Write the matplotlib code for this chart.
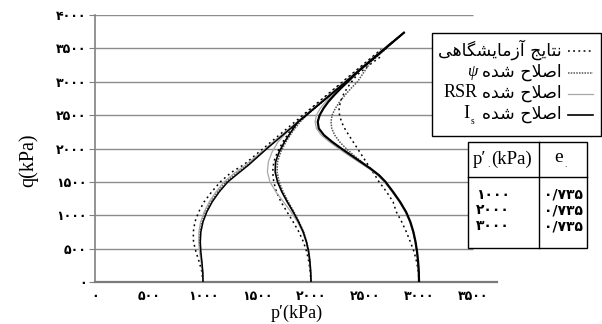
import matplotlib
matplotlib.use("Agg")
import matplotlib.pyplot as plt
from matplotlib.lines import Line2D
from matplotlib.patches import Rectangle

W, H = 602, 324

# stress paths, p' (kPa) against q (kPa), three initial confining pressures
exp_1000_p = [1000, 990, 965, 935, 912, 910, 925, 960, 1010, 1080, 1160, 1260, 1380, 1580, 1800, 2050, 2300, 2500, 2650]
exp_1000_q = [0, 150, 300, 450, 600, 750, 900, 1050, 1200, 1350, 1500, 1640, 1760, 2030, 2330, 2670, 3010, 3280, 3480]
psi_1000_p = [1000, 996, 987, 975, 968, 972, 990, 1022, 1072, 1135, 1212, 1305, 1410, 1600, 1800, 2000, 2200, 2400, 2600, 2700]
psi_1000_q = [0, 150, 300, 450, 600, 750, 900, 1050, 1200, 1350, 1500, 1625, 1755, 2020, 2295, 2570, 2840, 3115, 3390, 3520]
rsr_1000_p = [1000, 995, 983, 968, 960, 962, 978, 1010, 1058, 1120, 1195, 1290, 1400, 1600, 1800, 2000, 2200, 2400, 2600, 2750]
rsr_1000_q = [0, 150, 300, 450, 600, 750, 900, 1050, 1200, 1350, 1500, 1630, 1760, 2030, 2300, 2575, 2850, 3120, 3395, 3600]
is_1000_p = [1000, 998, 990, 980, 975, 980, 1000, 1035, 1085, 1150, 1230, 1320, 1420, 1600, 1800, 2000, 2200, 2400, 2600, 2860]
is_1000_q = [0, 150, 300, 450, 600, 750, 900, 1050, 1200, 1350, 1500, 1620, 1750, 2010, 2285, 2560, 2830, 3105, 3380, 3735]

exp_2000_p = [2000, 1993, 1980, 1960, 1930, 1888, 1835, 1778, 1722, 1680, 1655, 1645, 1655, 1690, 1740, 1800, 1870, 1960, 2100, 2300, 2500, 2650]
exp_2000_q = [0, 150, 300, 450, 600, 750, 900, 1050, 1200, 1350, 1500, 1650, 1800, 1950, 2100, 2250, 2400, 2540, 2730, 3005, 3278, 3483]
psi_2000_p = [2000, 1997, 1991, 1980, 1961, 1932, 1890, 1842, 1790, 1742, 1705, 1686, 1690, 1720, 1768, 1828, 1900, 2000, 2200, 2400, 2600, 2700]
psi_2000_q = [0, 150, 300, 450, 600, 750, 900, 1050, 1200, 1350, 1500, 1650, 1800, 1950, 2100, 2250, 2400, 2555, 2828, 3101, 3375, 3510]
rsr_2000_p = [2000, 1996, 1988, 1975, 1954, 1922, 1875, 1815, 1745, 1675, 1620, 1596, 1605, 1640, 1695, 1780, 1900, 2000, 2200, 2400, 2600, 2750]
rsr_2000_q = [0, 150, 300, 450, 600, 750, 900, 1050, 1200, 1350, 1500, 1650, 1800, 1950, 2100, 2250, 2433, 2570, 2843, 3116, 3390, 3597]
is_2000_p = [2000, 1997, 1990, 1978, 1958, 1928, 1885, 1835, 1780, 1730, 1690, 1668, 1672, 1705, 1755, 1815, 1880, 2000, 2200, 2400, 2600, 2820]
is_2000_q = [0, 150, 300, 450, 600, 750, 900, 1050, 1200, 1350, 1500, 1650, 1800, 1950, 2100, 2250, 2400, 2560, 2833, 3106, 3380, 3680]

exp_3000_p = [3000, 2994, 2978, 2955, 2920, 2883, 2840, 2790, 2760, 2700, 2630, 2592, 2550, 2510, 2470, 2430, 2390, 2350, 2312, 2282, 2264, 2260, 2272, 2297, 2332, 2376, 2425, 2500, 2580, 2650]
exp_3000_q = [0, 150, 300, 450, 600, 750, 900, 1050, 1200, 1350, 1500, 1600, 1700, 1800, 1900, 2000, 2100, 2200, 2300, 2400, 2500, 2600, 2700, 2800, 2900, 3000, 3100, 3200, 3300, 3380]
psi_3000_p = [3000, 2998, 2991, 2981, 2966, 2946, 2918, 2878, 2822, 2755, 2685, 2625, 2548, 2470, 2395, 2325, 2265, 2220, 2192, 2185, 2195, 2225, 2265, 2315, 2370, 2430, 2550, 2650, 2700]
psi_3000_q = [0, 150, 300, 450, 600, 750, 900, 1050, 1200, 1350, 1500, 1600, 1700, 1800, 1900, 2000, 2100, 2200, 2300, 2400, 2500, 2600, 2700, 2800, 2900, 3000, 3290, 3430, 3500]
rsr_3000_p = [3000, 2997, 2990, 2979, 2964, 2943, 2914, 2873, 2817, 2750, 2678, 2616, 2535, 2440, 2345, 2255, 2170, 2095, 2050, 2038, 2050, 2085, 2135, 2195, 2260, 2350, 2500, 2650, 2750]
rsr_3000_q = [0, 150, 300, 450, 600, 750, 900, 1050, 1200, 1350, 1500, 1600, 1700, 1800, 1900, 2000, 2100, 2200, 2300, 2400, 2500, 2600, 2700, 2800, 2900, 3046, 3251, 3456, 3593]
is_3000_p = [3000, 2998, 2992, 2982, 2968, 2948, 2920, 2880, 2825, 2760, 2690, 2630, 2550, 2460, 2370, 2280, 2195, 2120, 2072, 2062, 2080, 2115, 2160, 2215, 2275, 2340, 2450, 2600, 2750, 2860]
is_3000_q = [0, 150, 300, 450, 600, 750, 900, 1050, 1200, 1350, 1500, 1600, 1700, 1800, 1900, 2000, 2100, 2200, 2300, 2400, 2500, 2600, 2700, 2800, 2900, 3000, 3175, 3380, 3585, 3735]

X_TICKS = [0, 500, 1000, 1500, 2000, 2500, 3000, 3500]
Y_TICKS = [0, 500, 1000, 1500, 2000, 2500, 3000, 3500, 4000]

P0_VALUES = [1000, 2000, 3000]
E0_VALUES = [0.735, 0.735, 0.735]

LEGEND_EXP = "نتایج آزمایشگاهی"
LEGEND_MOD = "اصلاح شده"

# Persian presentation forms: isolated, final, initial, medial
FORMS = {
    "ا": ("\uFE8D", "\uFE8E", None, None),
    "آ": ("\uFE81", "\uFE82", None, None),
    "ت": ("\uFE95", "\uFE96", "\uFE97", "\uFE98"),
    "ج": ("\uFE9D", "\uFE9E", "\uFE9F", "\uFEA0"),
    "ح": ("\uFEA1", "\uFEA2", "\uFEA3", "\uFEA4"),
    "د": ("\uFEA9", "\uFEAA", None, None),
    "ز": ("\uFEAF", "\uFEB0", None, None),
    "ش": ("\uFEB5", "\uFEB6", "\uFEB7", "\uFEB8"),
    "ص": ("\uFEB9", "\uFEBA", "\uFEBB", "\uFEBC"),
    "ل": ("\uFEDD", "\uFEDE", "\uFEDF", "\uFEE0"),
    "م": ("\uFEE1", "\uFEE2", "\uFEE3", "\uFEE4"),
    "ن": ("\uFEE5", "\uFEE6", "\uFEE7", "\uFEE8"),
    "ه": ("\uFEE9", "\uFEEA", "\uFEEB", "\uFEEC"),
    "ی": ("\uFBFC", "\uFBFD", "\uFBFE", "\uFBFF"),
    "گ": ("\uFB92", "\uFB93", "\uFB94", "\uFB95"),
}
LAM_ALEF = ("\uFEFB", "\uFEFC", None, None)


def shape_fa(text):
    """Join Persian letters and return them in left-to-right drawing order."""
    chars = []
    i = 0
    while i < len(text):
        if text[i] == "ل" and text[i + 1:i + 2] == "ا":
            chars.append(LAM_ALEF)
            i += 2
            continue
        chars.append(FORMS.get(text[i], text[i]))
        i += 1
    out = []
    for k, c in enumerate(chars):
        if isinstance(c, str):
            out.append(c)
            continue
        prev = chars[k - 1] if k > 0 else None
        nxt = chars[k + 1] if k + 1 < len(chars) else None
        joins_prev = isinstance(prev, tuple) and prev[2] is not None
        joins_next = c[2] is not None and isinstance(nxt, tuple)
        if joins_prev and joins_next:
            out.append(c[3])
        elif joins_prev:
            out.append(c[1])
        elif joins_next:
            out.append(c[2])
        else:
            out.append(c[0])
    return "".join(reversed(out))


def fa_num(s):
    return str(s).translate(str.maketrans("0123456789.", "۰۱۲۳۴۵۶۷۸۹/"))


def fx(x):
    return x / W


def fy(y):
    return 1 - y / H


SERIF = ["Liberation Serif", "DejaVu Sans"]
FA = ["DejaVu Sans"]

STYLE_EXP = dict(color="black", lw=1.1, ls=(0, (1.2, 2.2)))
STYLE_PSI = dict(color="#555555", lw=1.1, ls=(0, (1.0, 0.8)))
STYLE_RSR = dict(color="#a8a8a8", lw=0.9, ls="-")
STYLE_IS = dict(color="black", lw=1.2, ls="-")

fig = plt.figure(figsize=(W / 100, H / 100), dpi=100)
ax = fig.add_axes([fx(95), fy(282), fx(497 - 95), (282 - 15) / H])

ax.hlines(Y_TICKS[1:], 0, 3500, color="#8c8c8c", lw=1.0, zorder=1)

for p, q in [(exp_1000_p, exp_1000_q), (exp_2000_p, exp_2000_q), (exp_3000_p, exp_3000_q)]:
    ax.plot(p, q, zorder=3, **STYLE_EXP)
for p, q in [(psi_1000_p, psi_1000_q), (psi_2000_p, psi_2000_q), (psi_3000_p, psi_3000_q)]:
    ax.plot(p, q, zorder=3, **STYLE_PSI)
for p, q in [(rsr_1000_p, rsr_1000_q), (rsr_2000_p, rsr_2000_q), (rsr_3000_p, rsr_3000_q)]:
    ax.plot(p, q, zorder=3, **STYLE_RSR)
for p, q, lw in [(is_1000_p, is_1000_q, 1.1), (is_2000_p, is_2000_q, 1.2), (is_3000_p, is_3000_q, 1.6)]:
    ax.plot(p, q, zorder=4, **{**STYLE_IS, "lw": lw})

ax.set_xlim(0, 3722)
ax.set_ylim(0, 4000)
for side in ("top", "right"):
    ax.spines[side].set_visible(False)
ax.spines["left"].set_color("#808080")
ax.spines["left"].set_linewidth(1.2)
ax.spines["bottom"].set_color("#7a7a7a")
ax.spines["bottom"].set_linewidth(1.6)

ax.set_xticks(X_TICKS)
ax.set_xticklabels([fa_num(v) for v in X_TICKS], family=FA, fontsize=9, fontweight="bold")
ax.set_yticks(Y_TICKS)
ax.set_yticklabels([fa_num(v) for v in Y_TICKS], family=FA, fontsize=9, fontweight="bold")
ax.tick_params(axis="y", length=4, color="#808080", pad=2)
ax.tick_params(axis="x", length=0, pad=6)

fig.text(fx(28), fy(160), "q(kPa)", rotation=90, ha="center", va="center",
         family=SERIF, fontsize=14.5)
fig.text(fx(297), fy(313), "p\u2032(kPa)", ha="center", va="center",
         family=SERIF, fontsize=13)

# legend box, samples on the right as in a right-to-left layout
fig.patches.append(Rectangle((fx(432), fy(136)), fx(601 - 432), (136 - 33) / H,
                             transform=fig.transFigure, facecolor="white",
                             edgecolor="black", lw=1.0, zorder=5))
renderer = fig.canvas.get_renderer()
rows = [
    (50, LEGEND_EXP, None, STYLE_EXP),
    (72, LEGEND_MOD, "\u03c8", STYLE_PSI),
    (93, LEGEND_MOD, "RSR", STYLE_RSR),
    (114, LEGEND_MOD, "I", STYLE_IS),
]
for y, label, tag, style in rows:
    t = fig.text(fx(562), fy(y), shape_fa(label), ha="right", va="center",
                 family=FA, fontsize=12.5, zorder=6)
    fig.lines.append(Line2D([fx(568), fx(593)], [fy(y + 1), fy(y + 1)],
                            transform=fig.transFigure, zorder=6, **style))
    if tag is None:
        continue
    x0 = t.get_window_extent(renderer).x0 - 5
    if tag == "\u03c8":
        fig.text(x0 / W, fy(y), tag, ha="right", va="center", family=SERIF,
                 fontsize=12, style="italic", zorder=6)
    elif tag == "RSR":
        fig.text(x0 / W, fy(y), tag, ha="right", va="center", family=SERIF,
                 fontsize=13, zorder=6)
    else:
        fig.text((x0 - 8) / W, fy(y), tag, ha="right", va="center", family=SERIF,
                 fontsize=13.5, zorder=6)
        fig.text((x0 - 7) / W, fy(y + 8), "s", ha="left", va="center", family=SERIF,
                 fontsize=7, zorder=6)

# table of initial states
fig.patches.append(Rectangle((fx(468), fy(248)), fx(587 - 468), (248 - 142) / H,
                             transform=fig.transFigure, facecolor="white",
                             edgecolor="black", lw=1.0, zorder=5))
fig.lines.append(Line2D([fx(468), fx(587)], [fy(177), fy(177)],
                        transform=fig.transFigure, color="black", lw=1.0, zorder=6))
fig.lines.append(Line2D([fx(539), fx(539)], [fy(142), fy(248)],
                        transform=fig.transFigure, color="black", lw=1.0, zorder=6))

# header: symbol, small Persian zero as subscript, then the unit
head_p = fig.text(fx(473), fy(159), "p\u2032", ha="left", va="center",
                  family=SERIF, fontsize=13.5, zorder=6)
xr = head_p.get_window_extent(renderer).x1
sub_p = fig.text(xr / W, fy(167), "۰", ha="left", va="center", family=FA,
                 fontsize=6, zorder=6)
xr = sub_p.get_window_extent(renderer).x1
fig.text(xr / W, fy(159), "(kPa)", ha="left", va="center",
         family=SERIF, fontsize=13.5, zorder=6)
head_e = fig.text(fx(554), fy(158), "e", ha="left", va="center",
                  family=SERIF, fontsize=14, zorder=6)
xr = head_e.get_window_extent(renderer).x1
fig.text((xr + 1) / W, fy(167), "۰", ha="left", va="center", family=FA,
         fontsize=6, zorder=6)

for y, p0, e0 in zip([195, 210, 226], P0_VALUES, E0_VALUES):
    fig.text(fx(493), fy(y), fa_num(p0), ha="center", va="center",
             family=FA, fontsize=10, fontweight="bold", zorder=6)
    fig.text(fx(563), fy(y), fa_num(f"{e0:.3f}"), ha="center", va="center",
             family=FA, fontsize=10, fontweight="bold", zorder=6)

fig.savefig("out.png", dpi=100)
